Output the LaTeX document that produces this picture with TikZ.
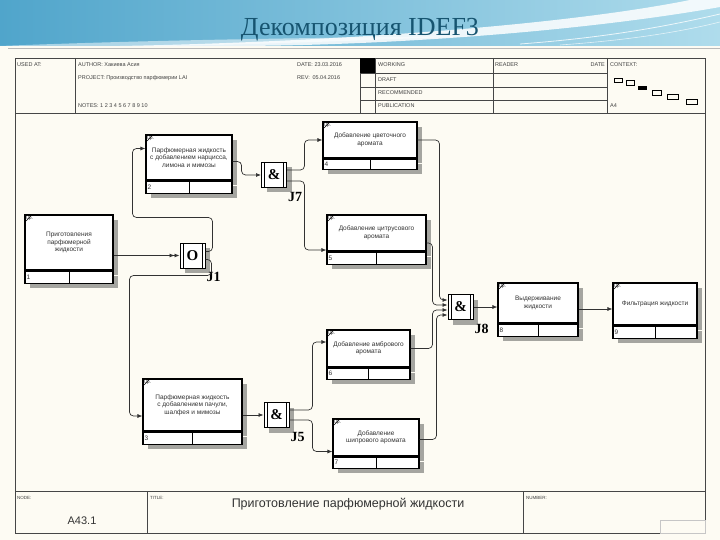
\documentclass[tikz,border=0pt]{standalone}
\usepackage{fontspec}
\setmainfont{Liberation Sans}
\newfontfamily\serifrm{Liberation Serif}
\usetikzlibrary{arrows.meta,positioning,shadows}
\definecolor{paper}{RGB}{253,251,243}
\definecolor{frameclr}{RGB}{70,70,70}
\definecolor{bannerdark}{RGB}{80,165,203}
\definecolor{bannerlight}{RGB}{175,220,236}
\definecolor{titleclr}{RGB}{22,84,112}
\definecolor{flowclr}{RGB}{50,50,50}
\definecolor{shadowclr}{RGB}{165,165,160}

\begin{document}
\begin{tikzpicture}[x=1pt, y=-1pt, every node/.style={font=\fontsize{6.5}{7.5}\selectfont, text=black!80}]
\tikzset{uobshadow/.style={general shadow={fill=shadowclr, shadow xshift=5pt, shadow yshift=-5pt}}}
\tikzset{uob/.style={draw, line width=1.1pt, fill=white, align=center, inner sep=1pt, uobshadow,
  label={[anchor=north west, inner sep=1.5pt, font=\fontsize{5}{5}\selectfont]north west:0р.},
  path picture={\draw[line width=0.6pt] ([xshift=1pt,yshift=-6pt]path picture bounding box.north west) -- ([xshift=6pt,yshift=-1pt]path picture bounding box.north west);}}}
\tikzset{strip/.style={draw, line width=1.1pt, fill=white, inner sep=0pt, minimum height=12pt, uobshadow,
  path picture={\draw[line width=0.8pt] (path picture bounding box.north) -- (path picture bounding box.south);}}}
\tikzset{num/.style={anchor=west, inner sep=2pt}}
\tikzset{junc/.style={draw, line width=1pt, fill=white, minimum size=25pt, inner sep=0pt, uobshadow,
  font=\serifrm\bfseries\fontsize{15}{15}\selectfont, text=black,
  path picture={\draw[line width=0.7pt] ([xshift=3pt]path picture bounding box.north west) -- ([xshift=3pt]path picture bounding box.south west);
    \draw[line width=0.7pt] ([xshift=-3pt]path picture bounding box.north east) -- ([xshift=-3pt]path picture bounding box.south east);}}}
\tikzset{jlab/.style={anchor=north west, inner sep=1pt, yshift=-3pt, font=\serifrm\bfseries\fontsize{14}{14}\selectfont, text=black}}
\tikzset{flow/.style={draw=flowclr, line width=0.7pt, rounded corners=4pt, -{Latex[length=5pt,width=4pt]}}}
\tikzset{flow2/.style={flow, -{Latex[length=5pt,width=4pt]Latex[length=5pt,width=4pt]}}}
\tikzset{hdr/.style={anchor=west, inner sep=0pt, font=\fontsize{5.5}{6}\selectfont, text=black!75}}
\tikzset{rule/.style={draw=frameclr, line width=0.9pt}}
\useasboundingbox (0,0) rectangle (720,540);
\fill[paper] (0,0) rectangle (720,540);
% banner
\shade[left color=bannerdark, right color=bannerlight] (0,0) rectangle (720,46);
\fill[white, opacity=0.85] (720,0) -- (720,7) .. controls (580,32) and (380,46) .. (230,46) -- (120,46) .. controls (330,42) and (560,26) .. (690,0) -- cycle;
\fill[white, opacity=0.5] (0,46) .. controls (150,40) and (300,38) .. (470,36) .. controls (330,42) and (200,46) .. (150,46) -- cycle;
\draw[white, line width=0.8pt, opacity=0.8] (520,44) .. controls (600,38) and (660,28) .. (720,14);
\draw[white, line width=0.6pt, opacity=0.7] (560,45) .. controls (630,40) and (680,32) .. (720,22);
\node[font=\serifrm\fontsize{26}{26}\selectfont, text=titleclr] (heading) at (360,30) {Декомпозиция IDEF3};
\draw[gray!55, line width=0.8pt] (8,48) -- (720,48);
% frame
\draw[rule] (15,58) rectangle (705,533);
\draw[rule] (15,113) -- (705,113);
\draw[rule] (15,491) -- (705,491);
\foreach \x in {75,360,375,493,607} \draw[rule, line width=0.7pt] (\x,58) -- (\x,113);
\foreach \y in {73,87,100} \draw[rule, line width=0.7pt] (360,\y) -- (607,\y);
\fill[black] (360,58) rectangle (375,73);
\foreach \x in {147,523} \draw[rule, line width=0.7pt] (\x,491) -- (\x,533);
\draw[gray!45, line width=0.5pt] (660,520) rectangle (705,533);
\foreach \a/\b/\c/\d in {614/78/622/82, 626/80/634/85, 652/90/661/95, 667/94/678/99, 686/99/697/104}
  \draw[line width=0.6pt] (\a,\b) rectangle (\c,\d);
\fill[black] (638,86) rectangle (647,90);
% header texts
\node[hdr] (usedat) at (17,65) {USED AT:};
\node[hdr] (author) at (78,65) {AUTHOR: Хакиева Асия};
\node[hdr] (project) at (78,78) {PROJECT: Производство парфюмерии LAI};
\node[hdr] (notes) at (78,106) {NOTES: 1 2 3 4 5 6 7 8 9 10};
\node[hdr] (date) at (297,65) {DATE: 23.03.2016};
\node[hdr] (rev) at (297,78) {REV:\enspace 05.04.2016};
\node[hdr] (working) at (378,65) {WORKING};
\node[hdr] (draft) at (378,80) {DRAFT};
\node[hdr] (recom) at (378,93) {RECOMMENDED};
\node[hdr] (publ) at (378,106) {PUBLICATION};
\node[hdr] (reader) at (495,65) {READER};
\node[hdr, anchor=east] (rdate) at (605,65) {DATE};
\node[hdr] (context) at (610,65) {CONTEXT:};
\node[hdr] (afour) at (610,106) {A4};
% footer texts
\node[hdr, font=\fontsize{4.5}{5}\selectfont] (nodelab) at (17,498) {NODE:};
\node[font=\fontsize{11}{11}\selectfont] (nodeid) at (82,521) {A43.1};
\node[hdr, font=\fontsize{4.5}{5}\selectfont] (titlelab) at (150,498) {TITLE:};
\node[font=\fontsize{12.5}{13}\selectfont] (title) at (348,504) {Приготовление парфюмерной жидкости};
\node[hdr, font=\fontsize{4.5}{5}\selectfont] (numberlab) at (526,498) {NUMBER:};
% units of behaviour
\node[uob, minimum width=88pt, minimum height=55pt] (b1) at (69,242.5) {Приготовления\\парфюмерной\\жидкости};
\node[strip, minimum width=88pt, below=0pt of b1, label={[num]west:1}] (b1n) {};
\node[uob, minimum width=86pt, minimum height=45pt] (b2) at (189,157.5) {Парфюмерная жидкость\\с добавлением нарцисса,\\лимона и мимозы};
\node[strip, minimum width=86pt, below=0pt of b2, label={[num]west:2}] (b2n) {};
\node[uob, minimum width=99pt, minimum height=52pt] (b3) at (192.5,405) {Парфюмерная жидкость\\с добавлением пачули,\\шалфея и мимозы};
\node[strip, minimum width=99pt, below=0pt of b3, label={[num]west:3}] (b3n) {};
\node[uob, minimum width=94pt, minimum height=36pt] (b4) at (370,140) {Добавление цветочного\\аромата};
\node[strip, minimum width=94pt, minimum height=10pt, below=0pt of b4, label={[num]west:4}] (b4n) {};
\node[uob, minimum width=99pt, minimum height=36pt] (b5) at (376.5,233) {Добавление цитрусового\\аромата};
\node[strip, minimum width=99pt, below=0pt of b5, label={[num]west:5}] (b5n) {};
\node[uob, minimum width=83pt, minimum height=37pt] (b6) at (368.5,348.5) {Добавление амбрового\\аромата};
\node[strip, minimum width=83pt, minimum height=11pt, below=0pt of b6, label={[num]west:6}] (b6n) {};
\node[uob, minimum width=86pt, minimum height=37pt] (b7) at (376,437.5) {Добавление\\шипрового аромата};
\node[strip, minimum width=86pt, minimum height=11pt, below=0pt of b7, label={[num]west:7}] (b7n) {};
\node[uob, minimum width=80pt, minimum height=40pt] (b8) at (538,303) {Выдерживание\\жидкости};
\node[strip, minimum width=80pt, below=0pt of b8, label={[num]west:8}] (b8n) {};
\node[uob, minimum width=84pt, minimum height=42pt] (b9) at (655,304) {Фильтрация жидкости};
\node[strip, minimum width=84pt, below=0pt of b9, label={[num]west:9}] (b9n) {};
% junctions
\node[junc, label={[jlab]south east:J1}] (j1) at (192.5,255.5) {O};
\node[junc, label={[jlab]south east:J7}] (j7) at (274,175) {\&};
\node[junc, label={[jlab]south east:J5}] (j5) at (276.5,415) {\&};
\node[junc, label={[jlab]south east:J8}] (j8) at (460.5,307) {\&};
% links
\draw[flow2] (b1.east |- j1) -- (j1.west);
\draw[flow] ([yshift=4pt]j1.east) -| ++(7,-34) -| ([xshift=-13pt,yshift=9pt]b2.west) -- ([yshift=9pt]b2.west);
\draw[flow] ([yshift=-4pt]j1.east) -| ++(6,16) -| ([xshift=-13pt,yshift=-11pt]b3.west) -- ([yshift=-11pt]b3.west);
\draw[flow] ([yshift=-4pt]b2.east) -- ++(9,0) |- (j7.west);
\draw[flow] ([yshift=5pt]j7.east) -| ([xshift=-18pt]b4.west) -- (b4.west);
\draw[flow] ([yshift=-6pt]j7.east) -| ([xshift=-22pt,yshift=-17pt]b5.west) -- ([yshift=-17pt]b5.west);
\draw[flow] (b3.east |- j5) -- (j5.west);
\draw[flow] ([yshift=5pt]j5.east) -| ([xshift=-14pt,yshift=6.5pt]b6.west) -- ([yshift=6.5pt]b6.west);
\draw[flow] ([yshift=-5pt]j5.east) -| ([xshift=-20pt,yshift=-14pt]b7.west) -- ([yshift=-14pt]b7.west);
\draw[flow] (b4.east) -| ([xshift=-8pt,yshift=7pt]j8.west) -- ([yshift=7pt]j8.west);
\draw[flow] ([yshift=-10pt]b5.east) -| ([xshift=-15pt,yshift=2pt]j8.west) -- ([yshift=2pt]j8.west);
\draw[flow] (b6.east) -| ([xshift=-15pt,yshift=-3pt]j8.west) -- ([yshift=-3pt]j8.west);
\draw[flow] ([yshift=-2pt]b7.east) -| ([xshift=-11pt,yshift=-8pt]j8.west) -- ([yshift=-8pt]j8.west);
\draw[flow] (j8.east) -- (j8.east -| b8.west);
\draw[flow] ([yshift=-6pt]b8.east) -- ([yshift=-6pt]b8.east -| b9.west);
\end{tikzpicture}
\end{document}
